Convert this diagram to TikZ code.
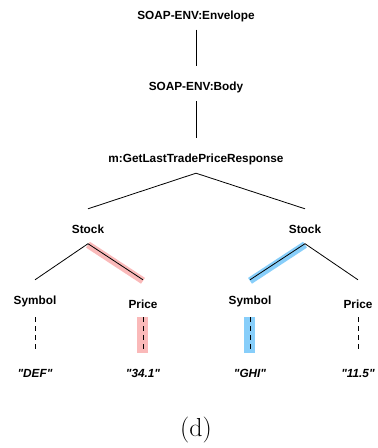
\documentclass[tikz,border=0pt]{standalone}
\usepackage{fontspec}
\newfontfamily\treefont{Liberation Sans}
\usetikzlibrary{positioning}
\definecolor{hlpink}{RGB}{250,185,185}
\definecolor{hlblue}{RGB}{135,206,250}

\begin{document}
\begin{tikzpicture}[node distance=71.5pt,on grid,
		main node/.style={inner sep=0pt,text height=24.2pt,text depth=10.3pt,
			font=\treefont\fontsize{11.8pt}{14pt}\selectfont\bfseries},
		value node/.style={main node,font=\treefont\fontsize{11.8pt}{14pt}\selectfont\bfseries\itshape},
		lowered/.style={text height=28.7pt,text depth=5.8pt},
		caption node/.style={font=\fontsize{26pt}{30pt}\selectfont},
		tree edge/.style={line width=0.8pt},
		leaf edge/.style={line width=0.8pt,dash pattern=on 5pt off 4pt,shorten <=2.5pt},
		pink band/.style={hlpink,line width=7pt},
		blue band/.style={hlblue,line width=7pt},
		pink box/.style={hlpink,line width=11pt,shorten <=2.5pt},
		blue box/.style={hlblue,line width=11pt,shorten <=2.5pt}]
	\useasboundingbox (-196pt,12.25pt) rectangle (182pt,-435.75pt);
	\node[main node] (0) {SOAP-ENV:Envelope};
	\node[main node] (1) [below=of 0] {SOAP-ENV:Body};
	\node[main node] (2) [below=72pt of 1] {m:GetLastTradePriceResponse};
	\node[main node] (3) [below left=70.5pt and 108pt of 2] {Stock};
	\node[main node] (4) [below right=70.5pt and 109pt of 2] {Stock};
	\node[main node] (5) [below left=71pt and 53pt of 3] {Symbol};
	\node[main node,lowered] (6) [below right=71pt and 55pt of 3] {Price};
	\node[main node] (7) [below left=71pt and 55pt of 4] {Symbol};
	\node[main node,lowered] (8) [below right=71pt and 53pt of 4] {Price};
	\node[value node] (9) [below=73pt of 5] {"DEF"};
	\node[value node] (10) [below=73pt of 6] {"34.1"};
	\node[value node] (11) [below=73pt of 7] {"GHI"};
	\node[value node] (12) [below=73pt of 8] {"11.5"};
	\node[caption node] (13) [below=274.25pt of 2] {(d)};
	%
	% Highlighted paths behind the tree.
	\path[pink band]
		([yshift=-1pt]3.south) edge ([yshift=-1pt]6.north);
	\path[pink box]
		(6.south) edge (10.north);
	\path[blue band]
		([yshift=-1pt]4.south) edge ([yshift=-1pt]7.north);
	\path[blue box]
		(7.south) edge (11.north);
	%
	% Solid lines between elements.
	\path[tree edge]
		(0.south) edge (1.north)
		(1.south) edge (2.north)
		(2.south) edge (3.north)
		(2.south) edge (4.north)
		(3.south) edge (5.north)
		(3.south) edge (6.north)
		(4.south) edge (7.north)
		(4.south) edge (8.north);
	%
	% Dashed lines down to the text values.
	\path[leaf edge]
		(5.south) edge (9.north)
		(6.south) edge (10.north)
		(7.south) edge (11.north)
		(8.south) edge (12.north);
\end{tikzpicture}
\end{document}
